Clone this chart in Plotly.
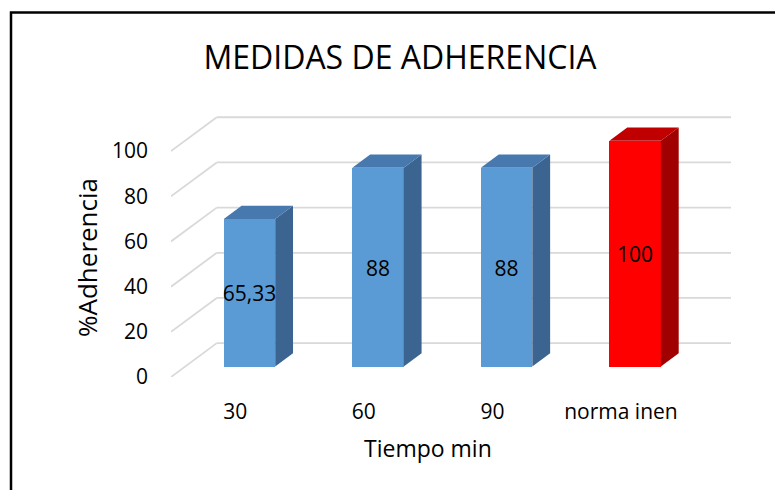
import plotly.graph_objects as go

# ---- data ----
categories = ["30", "60", "90", "norma inen"]
values = [65.33, 88, 88, 100]
front_colors = ["#5B9BD5", "#5B9BD5", "#5B9BD5", "#FF0000"]
top_colors = ["#4779AE", "#4779AE", "#4779AE", "#C00000"]
side_colors = ["#3B6590", "#3B6590", "#3B6590", "#A00000"]
y_ticks = [0, 20, 40, 60, 80, 100]

# ---- pseudo-3D geometry (in axis units) ----
DX, DY = 0.356, 15.0        # depth vector of the floor / back wall
F0, F1 = 0.31, 0.70         # bar front / back depth fractions
W = 0.40                    # bar width (category units)
XMIN, XMAX = -0.5, len(categories) - 0.5 + DX
YMAX = y_ticks[-1] + DY + 1

W_PX, H_PX = 775, 490
ML, MR, MT, MB = 171, 44, 115, 113
PW, PH = W_PX - ML - MR, H_PX - MT - MB

FONT = "Open Sans"
fig = go.Figure()

# gridlines (below traces): diagonal on the side + horizontal on the back wall
for v in y_ticks:
    for (xa, ya, xb, yb) in [(XMIN, v, XMIN + DX, v + DY), (XMIN + DX, v + DY, XMAX, v + DY)]:
        fig.add_shape(type="line", xref="x", yref="y", x0=xa, y0=ya, x1=xb, y1=yb,
                      line=dict(color="#D9D9D9", width=1.8), layer="below")

b = F0 * DY
ddx, ddy = (F1 - F0) * DX, (F1 - F0) * DY
for i, v in enumerate(values):
    xc = i + F0 * DX
    xl, xr = xc - W / 2, xc + W / 2
    # side face
    fig.add_trace(go.Scatter(
        x=[xr, xr + ddx, xr + ddx, xr, xr],
        y=[b, b + ddy, b + v + ddy, b + v, b],
        fill="toself", fillcolor=side_colors[i], mode="lines",
        line=dict(width=0, color=side_colors[i]), hoverinfo="skip", showlegend=False))
    # top face
    fig.add_trace(go.Scatter(
        x=[xl, xl + ddx, xr + ddx, xr, xl],
        y=[b + v, b + v + ddy, b + v + ddy, b + v, b + v],
        fill="toself", fillcolor=top_colors[i], mode="lines",
        line=dict(width=0, color=top_colors[i]), hoverinfo="skip", showlegend=False))

# front faces
fig.add_trace(go.Bar(
    x=[i + F0 * DX for i in range(len(values))], y=values, base=b, width=W,
    marker=dict(color=front_colors, line=dict(width=0)), showlegend=False,
    textposition="none"))

# value labels
fig.add_trace(go.Scatter(
    x=[i + F0 * DX for i in range(len(values))],
    y=[b + v / 2 - 1.5 for v in values],
    text=[f"{v:g}".replace(".", ",") for v in values],
    mode="text", textfont=dict(family=FONT, size=21, color="black"),
    hoverinfo="skip", showlegend=False, cliponaxis=False))

# chart border (extends past right/bottom edge)
def px2paper_x(px):
    return (px - ML) / PW

def px2paper_y(py):
    return (H_PX - MB - py) / PH

fig.add_shape(type="rect", xref="paper", yref="paper",
              x0=px2paper_x(11), x1=px2paper_x(820), y0=px2paper_y(540), y1=px2paper_y(12.5),
              line=dict(color="black", width=2.5), fillcolor="rgba(0,0,0,0)", layer="above")

# axis titles (centred on the front plane, as in the original)
fig.add_annotation(text="Tiempo min", xref="x", yref="paper",
                   x=(XMIN + len(categories) - 0.5) / 2, y=px2paper_y(448),
                   xanchor="center", yanchor="middle", showarrow=False,
                   font=dict(family=FONT, size=23, color="black"))
fig.add_annotation(text="%Adherencia", xref="paper", yref="paper",
                   x=px2paper_x(87), y=px2paper_y(258), textangle=-90,
                   xanchor="center", yanchor="middle", showarrow=False,
                   font=dict(family=FONT, size=26, color="black"))

fig.update_layout(
    width=W_PX, height=H_PX,
    margin=dict(l=ML, r=MR, t=MT, b=MB, pad=0),
    paper_bgcolor="white", plot_bgcolor="white",
    font=dict(family=FONT, color="black"),
    title=dict(text="MEDIDAS DE ADHERENCIA", x=400 / W_PX, xanchor="center",
               y=1 - 58 / H_PX, yanchor="middle", yref="container",
               font=dict(family=FONT, size=32, color="black")),
    xaxis=dict(range=[XMIN, XMAX], tickvals=list(range(len(categories))), ticktext=categories,
               showgrid=False, zeroline=False, showline=False, ticks="",
               tickfont=dict(family=FONT, size=21, color="black"), ticklabelstandoff=20),
    yaxis=dict(range=[0, YMAX], tickvals=y_ticks, ticktext=[str(t) for t in y_ticks],
               showgrid=False, zeroline=False, showline=False, ticks="",
               tickfont=dict(family=FONT, size=21, color="black"), ticklabelstandoff=22),
    bargap=0,
)

fig.write_html("out.html", config={"displayModeBar": False})
